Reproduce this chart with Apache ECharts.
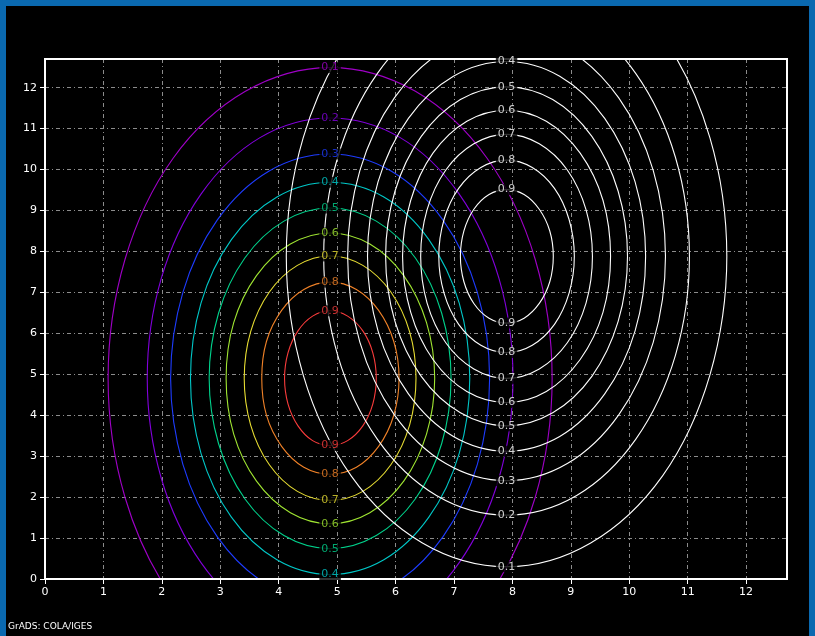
<!DOCTYPE html>
<html>
<head>
<meta charset="utf-8">
<script src="https://cdn.jsdelivr.net/npm/echarts@6/dist/echarts.min.js"></script>
<style>
html,body{margin:0;padding:0;background:#000;}
#chart{width:815px;height:636px;}
</style>
</head>
<body>
<div id="chart"></div>
<script>
// ---- axis ticks ----
const xTickValues = [0,1,2,3,4,5,6,7,8,9,10,11,12];
const yTickValues = [0,1,2,3,4,5,6,7,8,9,10,11,12];
const axisMin = 0, axisMax = 12.7;

// ---- contour levels ----
const levels = ['0.1','0.2','0.3','0.4','0.5','0.6','0.7','0.8','0.9'];
const colouredLineColors = ['#a000c8','#8200dc','#1e3cff','#00c8c8','#00d28c','#a0e632','#e6dc32','#f08228','#fa3c3c'];
const whiteLineColor = '#ffffff';

// ---- coloured field contours, closed loops of [x, y] ----
const colouredC01 = [[4.88,12.49],[3.43,11.91],[2.19,10.27],[1.37,7.81],[1.08,4.9],[1.37,1.99],[2.19,-0.47],[3.43,-2.11],[4.88,-2.69],[6.34,-2.11],[7.57,-0.47],[8.39,1.99],[8.68,4.9],[8.39,7.81],[7.57,10.27],[6.34,11.91]];
const colouredC02 = [[4.88,11.26],[3.68,10.78],[2.67,9.4],[1.99,7.34],[1.75,4.9],[1.99,2.46],[2.67,0.4],[3.68,-0.98],[4.88,-1.46],[6.08,-0.98],[7.09,0.4],[7.77,2.46],[8.01,4.9],[7.77,7.34],[7.09,9.4],[6.08,10.78]];
const colouredC03 = [[4.88,10.38],[3.83,9.96],[2.95,8.77],[2.36,7.0],[2.15,4.9],[2.36,2.8],[2.95,1.03],[3.83,-0.16],[4.88,-0.58],[5.93,-0.16],[6.81,1.03],[7.4,2.8],[7.61,4.9],[7.4,7.0],[6.81,8.77],[5.93,9.96]];
const colouredC04 = [[4.88,9.69],[3.97,9.33],[3.19,8.29],[2.67,6.74],[2.49,4.9],[2.67,3.07],[3.19,1.51],[3.97,0.47],[4.88,0.11],[5.8,0.47],[6.57,1.51],[7.09,3.07],[7.27,4.9],[7.09,6.74],[6.57,8.29],[5.8,9.33]];
const colouredC05 = [[4.88,9.06],[4.09,8.74],[3.42,7.84],[2.97,6.49],[2.81,4.9],[2.97,3.31],[3.42,1.96],[4.09,1.06],[4.88,0.74],[5.67,1.06],[6.34,1.96],[6.79,3.31],[6.95,4.9],[6.79,6.49],[6.34,7.84],[5.67,8.74]];
const colouredC06 = [[4.88,8.45],[4.2,8.18],[3.62,7.41],[3.23,6.26],[3.1,4.9],[3.23,3.54],[3.62,2.39],[4.2,1.62],[4.88,1.35],[5.56,1.62],[6.14,2.39],[6.53,3.54],[6.67,4.9],[6.53,6.26],[6.14,7.41],[5.56,8.18]];
const colouredC07 = [[4.88,7.89],[4.32,7.66],[3.84,7.01],[3.52,6.04],[3.41,4.9],[3.52,3.76],[3.84,2.79],[4.32,2.14],[4.88,1.92],[5.44,2.14],[5.92,2.79],[6.24,3.76],[6.35,4.9],[6.24,6.04],[5.92,7.01],[5.44,7.66]];
const colouredC08 = [[4.88,7.25],[4.43,7.07],[4.05,6.56],[3.79,5.8],[3.71,4.9],[3.79,4.0],[4.05,3.24],[4.43,2.73],[4.88,2.56],[5.33,2.73],[5.71,3.24],[5.97,4.0],[6.06,4.9],[5.97,5.8],[5.71,6.56],[5.33,7.07]];
const colouredC09 = [[4.88,6.55],[4.58,6.42],[4.33,6.06],[4.16,5.53],[4.1,4.9],[4.16,4.27],[4.33,3.74],[4.58,3.38],[4.88,3.26],[5.18,3.38],[5.44,3.74],[5.61,4.27],[5.67,4.9],[5.61,5.53],[5.44,6.06],[5.18,6.42]];

// ---- white field contours, closed loops of [x, y] ----
const whiteC01 = [[7.9,15.46],[6.46,14.88],[5.24,13.24],[4.42,10.78],[4.13,7.88],[4.42,4.98],[5.24,2.52],[6.46,0.88],[7.9,0.3],[9.34,0.88],[10.57,2.52],[11.38,4.98],[11.67,7.88],[11.38,10.78],[10.57,13.24],[9.34,14.88]];
const whiteC02 = [[7.9,14.2],[6.7,13.72],[5.69,12.35],[5.01,10.3],[4.77,7.88],[5.01,5.46],[5.69,3.41],[6.7,2.04],[7.9,1.56],[9.1,2.04],[10.11,3.41],[10.79,5.46],[11.03,7.88],[10.79,10.3],[10.11,12.35],[9.1,13.72]];
const whiteC03 = [[7.9,13.36],[6.86,12.94],[5.98,11.75],[5.39,9.98],[5.18,7.88],[5.39,5.78],[5.98,4.01],[6.86,2.82],[7.9,2.4],[8.94,2.82],[9.82,4.01],[10.41,5.78],[10.62,7.88],[10.41,9.98],[9.82,11.75],[8.94,12.94]];
const whiteC04 = [[7.9,12.64],[6.99,12.28],[6.22,11.25],[5.7,9.7],[5.52,7.88],[5.7,6.06],[6.22,4.52],[6.99,3.48],[7.9,3.12],[8.81,3.48],[9.58,4.52],[10.1,6.06],[10.28,7.88],[10.1,9.7],[9.58,11.25],[8.81,12.28]];
const whiteC05 = [[7.9,12.02],[7.11,11.71],[6.44,10.81],[5.99,9.47],[5.83,7.88],[5.99,6.29],[6.44,4.95],[7.11,4.06],[7.9,3.74],[8.69,4.06],[9.36,4.95],[9.81,6.29],[9.97,7.88],[9.81,9.47],[9.36,10.81],[8.69,11.71]];
const whiteC06 = [[7.9,11.45],[7.22,11.18],[6.64,10.4],[6.26,9.25],[6.12,7.88],[6.26,6.51],[6.64,5.36],[7.22,4.58],[7.9,4.31],[8.58,4.58],[9.16,5.36],[9.55,6.51],[9.68,7.88],[9.55,9.25],[9.16,10.4],[8.58,11.18]];
const whiteC07 = [[7.9,10.86],[7.34,10.63],[6.86,9.99],[6.54,9.02],[6.43,7.88],[6.54,6.74],[6.86,5.77],[7.34,5.13],[7.9,4.9],[8.46,5.13],[8.94,5.77],[9.26,6.74],[9.37,7.88],[9.26,9.02],[8.94,9.99],[8.46,10.63]];
const whiteC08 = [[7.9,10.23],[7.46,10.05],[7.08,9.54],[6.83,8.78],[6.74,7.88],[6.83,6.98],[7.08,6.22],[7.46,5.71],[7.9,5.53],[8.34,5.71],[8.72,6.22],[8.97,6.98],[9.06,7.88],[8.97,8.78],[8.72,9.54],[8.34,10.05]];
const whiteC09 = [[7.9,9.51],[7.6,9.39],[7.34,9.03],[7.17,8.5],[7.11,7.88],[7.17,7.26],[7.34,6.73],[7.6,6.37],[7.9,6.25],[8.2,6.37],[8.46,6.73],[8.64,7.26],[8.7,7.88],[8.64,8.5],[8.46,9.03],[8.2,9.39]];

// ---- contour labels [x, y, levelIndex] ----
const colouredLabels = [[4.88,12.49,0],[4.88,11.26,1],[4.88,10.38,2],[4.88,9.69,3],[4.88,9.06,4],[4.88,8.45,5],[4.88,7.89,6],[4.88,7.25,7],[4.88,6.55,8],
  [4.88,3.26,8],[4.88,2.56,7],[4.88,1.92,6],[4.88,1.35,5],[4.88,0.74,4],[4.88,0.11,3]];
const whiteLabels = [[7.9,12.64,3],[7.9,12.02,4],[7.9,11.45,5],[7.9,10.86,6],[7.9,10.23,7],[7.9,9.51,8],
  [7.9,6.25,8],[7.9,5.53,7],[7.9,4.9,6],[7.9,4.31,5],[7.9,3.74,4],[7.9,3.12,3],[7.9,2.4,2],[7.9,1.56,1],[7.9,0.3,0]];

const colouredContours = [colouredC01,colouredC02,colouredC03,colouredC04,colouredC05,colouredC06,colouredC07,colouredC08,colouredC09];
const whiteContours = [whiteC01,whiteC02,whiteC03,whiteC04,whiteC05,whiteC06,whiteC07,whiteC08,whiteC09];

const chart = echarts.init(document.getElementById('chart'), null, {renderer:'canvas'});

function contourSeries(contours, colorFn, z){
  return {
    type:'custom', clip:true, silent:true, z:z,
    data: contours.map((c,i)=>[i]),
    renderItem: function(params, api){
      const idx = api.value(0);
      const pts = contours[idx].map(p=>api.coord(p));
      return {type:'polygon', shape:{points:pts, smooth:0.35},
        style:{fill:null, stroke:colorFn(idx), lineWidth:1.1}};
    }
  };
}
function labelSeries(arr, colorFn){
  return {type:'scatter', symbol:'rect', symbolSize:1, silent:true, z:6,
    itemStyle:{color:'rgba(0,0,0,0)'},
    data: arr.map(p=>({value:[p[0],p[1]], label:{show:true, position:'inside', formatter:levels[p[2]],
      color:colorFn(p[2]), backgroundColor:'#000', padding:[0,2,0,2],
      fontFamily:'DejaVu Sans', fontSize:11, lineHeight:11}}))};
}

const series = [
  contourSeries(colouredContours, i=>colouredLineColors[i], 3),
  contourSeries(whiteContours, ()=>whiteLineColor, 4),
  labelSeries(colouredLabels, i=>colouredLineColors[i]),
  labelSeries(whiteLabels, ()=>whiteLineColor)
];

const axisCommon = {
  type:'value', min:axisMin, max:axisMax, interval:1,
  axisLine:{show:false},
  axisTick:{show:true, inside:false, length:5, lineStyle:{color:'#ffffff', width:1}},
  axisLabel:{color:'#ffffff', fontFamily:'DejaVu Sans', fontSize:11},
  splitLine:{show:true, lineStyle:{color:'#8c8c8c', width:1, type:[4,3,1,3]}}
};

chart.setOption({
  backgroundColor:'#000000',
  animation:false,
  grid:{left:45, right:28, top:59, bottom:57, show:true, borderColor:'#ffffff', borderWidth:2, backgroundColor:'transparent', z:5},
  xAxis:Object.assign({}, axisCommon, {
    axisTick:Object.assign({}, axisCommon.axisTick, {customValues:xTickValues}),
    axisLabel:Object.assign({}, axisCommon.axisLabel, {customValues:xTickValues, margin:8})
  }),
  yAxis:Object.assign({}, axisCommon, {
    axisTick:Object.assign({}, axisCommon.axisTick, {customValues:yTickValues}),
    axisLabel:Object.assign({}, axisCommon.axisLabel, {customValues:yTickValues, margin:8})
  }),
  graphic:[
    {type:'rect', left:0, top:0, shape:{width:815, height:6}, style:{fill:'#0a69b0'}, silent:true},
    {type:'rect', left:0, top:0, shape:{width:6, height:636}, style:{fill:'#0a69b0'}, silent:true},
    {type:'rect', right:0, top:0, shape:{width:6, height:636}, style:{fill:'#0a69b0'}, silent:true},
    {type:'text', left:8, top:622, style:{text:'GrADS: COLA/IGES', fill:'#ffffff', font:'9px DejaVu Sans'}, silent:true}
  ],
  series: series
});
</script>
</body>
</html>
